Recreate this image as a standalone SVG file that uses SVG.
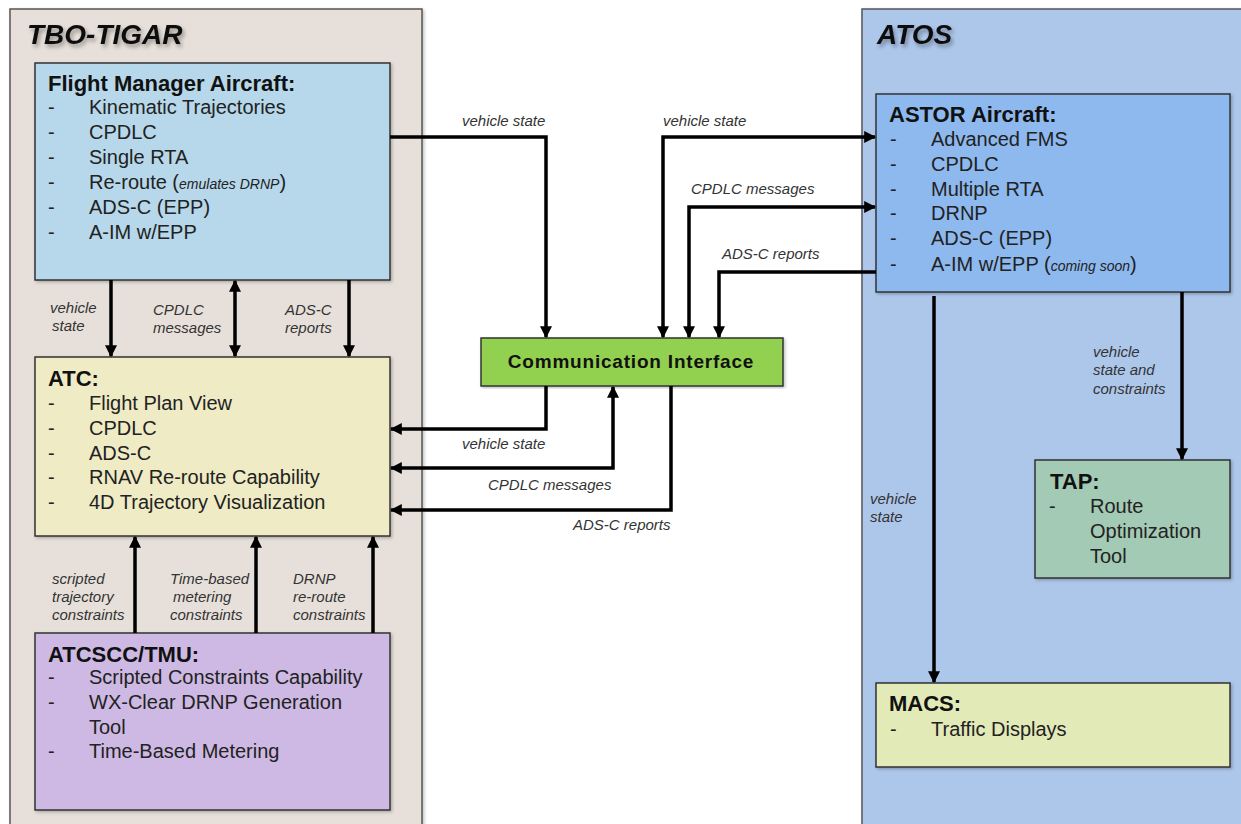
<svg xmlns="http://www.w3.org/2000/svg" width="1241" height="824" viewBox="0 0 1241 824">
<defs>
<marker id="ah" viewBox="0 0 10 10" refX="9" refY="5" markerWidth="12" markerHeight="12" markerUnits="userSpaceOnUse" orient="auto-start-reverse"><path d="M0,0 L10,5 L0,10 z" fill="#000"/></marker>
<filter id="sh" x="-10%" y="-20%" width="130%" height="150%"><feDropShadow dx="2" dy="3" stdDeviation="2" flood-color="#000" flood-opacity="0.35"/></filter>
<filter id="bs" x="-5%" y="-5%" width="110%" height="110%"><feDropShadow dx="1.5" dy="1.5" stdDeviation="1.5" flood-color="#000" flood-opacity="0.25"/></filter>
<style>
.panel{stroke:#555;stroke-width:1.5}
.box{stroke:#333;stroke-width:1.5}
.pt{font-family:"Liberation Sans",Arial,sans-serif;font-size:28px;font-weight:bold;font-style:italic;fill:#111}
.bt{font-family:"Liberation Sans",Arial,sans-serif;font-size:22px;font-weight:bold;fill:#111}
.it{font-family:"Liberation Sans",Arial,sans-serif;font-size:20px;fill:#222;white-space:pre}
.sm{font-size:14px;font-style:italic}
.lb{font-family:"Liberation Sans",Arial,sans-serif;font-size:15px;font-style:italic;fill:#333}
.cn{fill:none;stroke:#000;stroke-width:3.5}
</style>
</defs>
<rect width="1241" height="824" fill="#fff"/>
<g id="tbo-tigar">
<rect class="panel" x="10" y="9" width="412" height="830" fill="#e7e0da" filter="url(#bs)"/>
<text class="pt" x="27" y="44" filter="url(#sh)">TBO-TIGAR</text>
</g>
<g id="atos">
<rect class="panel" x="862" y="9" width="400" height="830" fill="#adc7eb" filter="url(#bs)"/>
<text class="pt" x="877" y="44" filter="url(#sh)">ATOS</text>
</g>
<g id="flight-manager">
<rect class="box" x="35" y="63" width="355" height="217" fill="#b6d8ea" filter="url(#bs)"/>
<text class="bt" x="48" y="91">Flight Manager Aircraft:</text>
<g class="it">
<text x="48" y="114">-</text><text x="89" y="114">Kinematic Trajectories</text>
<text x="48" y="139">-</text><text x="89" y="139">CPDLC</text>
<text x="48" y="164">-</text><text x="89" y="164">Single RTA</text>
<text x="48" y="189">-</text><text x="89" y="189">Re-route (<tspan class="sm">emulates DRNP</tspan>)</text>
<text x="48" y="214">-</text><text x="89" y="214">ADS-C (EPP)</text>
<text x="48" y="239">-</text><text x="89" y="239">A-IM  w/EPP</text>
</g>
</g>
<g id="atc">
<rect class="box" x="35" y="357" width="355" height="179" fill="#efebc5" filter="url(#bs)"/>
<text class="bt" x="48" y="386">ATC:</text>
<g class="it">
<text x="48" y="410">-</text><text x="89" y="410">Flight Plan View</text>
<text x="48" y="435">-</text><text x="89" y="435">CPDLC</text>
<text x="48" y="460">-</text><text x="89" y="460">ADS-C</text>
<text x="48" y="484">-</text><text x="89" y="484">RNAV Re-route Capability</text>
<text x="48" y="509">-</text><text x="89" y="509">4D Trajectory Visualization</text>
</g>
</g>
<g id="atcscc-tmu">
<rect class="box" x="35" y="633" width="355" height="177" fill="#cdb9e3" filter="url(#bs)"/>
<text class="bt" x="48" y="662">ATCSCC/TMU:</text>
<g class="it">
<text x="48" y="684">-</text><text x="89" y="684">Scripted Constraints Capability</text>
<text x="48" y="709">-</text><text x="89" y="709">WX-Clear DRNP Generation</text>
<text x="89" y="734">Tool</text>
<text x="48" y="758">-</text><text x="89" y="758">Time-Based Metering</text>
</g>
</g>
<g id="communication-interface">
<rect class="box" x="481" y="338" width="302" height="48" fill="#92d050" filter="url(#bs)"/>
<text x="631" y="368" text-anchor="middle" font-family="Liberation Sans, Arial, sans-serif" font-size="19" font-weight="bold" letter-spacing="0.8" fill="#111">Communication Interface</text>
</g>
<g id="astor-aircraft">
<rect class="box" x="876" y="94" width="354" height="198" fill="#8db9ef" filter="url(#bs)"/>
<text class="bt" x="889" y="122">ASTOR Aircraft:</text>
<g class="it">
<text x="890" y="146">-</text><text x="931" y="146">Advanced FMS</text>
<text x="890" y="171">-</text><text x="931" y="171">CPDLC</text>
<text x="890" y="196">-</text><text x="931" y="196">Multiple  RTA</text>
<text x="890" y="220">-</text><text x="931" y="220">DRNP</text>
<text x="890" y="245">-</text><text x="931" y="245">ADS-C (EPP)</text>
<text x="890" y="271">-</text><text x="931" y="271">A-IM  w/EPP (<tspan class="sm">coming soon</tspan>)</text>
</g>
</g>
<g id="tap">
<rect class="box" x="1035" y="460" width="195" height="118" fill="#a3cab4" filter="url(#bs)"/>
<text class="bt" x="1050" y="489">TAP:</text>
<g class="it">
<text x="1049" y="513">-</text><text x="1090" y="513">Route</text>
<text x="1090" y="538">Optimization</text>
<text x="1090" y="563">Tool</text>
</g>
</g>
<g id="macs">
<rect class="box" x="876" y="683" width="354" height="84" fill="#e2eab8" filter="url(#bs)"/>
<text class="bt" x="889" y="711">MACS:</text>
<g class="it">
<text x="890" y="736">-</text><text x="931" y="736">Traffic Displays</text>
</g>
</g>
<g id="connectors">
<path class="cn" d="M390,137 H546 V337" marker-end="url(#ah)"/>
<path class="cn" d="M663,337 V137 H875" marker-start="url(#ah)" marker-end="url(#ah)"/>
<path class="cn" d="M689,337 V207 H875" marker-start="url(#ah)" marker-end="url(#ah)"/>
<path class="cn" d="M876,272 H719 V337" marker-end="url(#ah)"/>
<path class="cn" d="M546,386 V429 H391" marker-end="url(#ah)"/>
<path class="cn" d="M391,468 H613 V387" marker-start="url(#ah)" marker-end="url(#ah)"/>
<path class="cn" d="M671,386 V510 H391" marker-end="url(#ah)"/>
<path class="cn" d="M111,280 V356" marker-end="url(#ah)"/>
<path class="cn" d="M235,281 V356" marker-start="url(#ah)" marker-end="url(#ah)"/>
<path class="cn" d="M349,280 V356" marker-end="url(#ah)"/>
<path class="cn" d="M135,633 V537" marker-end="url(#ah)"/>
<path class="cn" d="M256,633 V537" marker-end="url(#ah)"/>
<path class="cn" d="M373,633 V537" marker-end="url(#ah)"/>
<path class="cn" d="M934,296 V682" marker-end="url(#ah)"/>
<path class="cn" d="M1182,292 V459" marker-end="url(#ah)"/>
<g class="lb">
<text x="462" y="126">vehicle state</text>
<text x="663" y="126">vehicle state</text>
<text x="691" y="194">CPDLC messages</text>
<text x="722" y="259">ADS-C reports</text>
<text x="462" y="449">vehicle state</text>
<text x="488" y="490">CPDLC messages</text>
<text x="573" y="530">ADS-C reports</text>
<text x="50" y="313">vehicle</text><text x="52" y="331">state</text>
<text x="153" y="315">CPDLC</text><text x="153" y="333">messages</text>
<text x="285" y="315">ADS-C</text><text x="285" y="333">reports</text>
<text x="52" y="584">scripted</text><text x="52" y="602">trajectory</text><text x="52" y="620">constraints</text>
<text x="170" y="584">Time-based</text><text x="173" y="602">metering</text><text x="170" y="620">constraints</text>
<text x="293" y="584">DRNP</text><text x="293" y="602">re-route</text><text x="293" y="620">constraints</text>
<text x="1093" y="357">vehicle</text><text x="1093" y="375">state and</text><text x="1093" y="394">constraints</text>
<text x="870" y="504">vehicle</text><text x="870" y="522">state</text>
</g>
</g>
</svg>
